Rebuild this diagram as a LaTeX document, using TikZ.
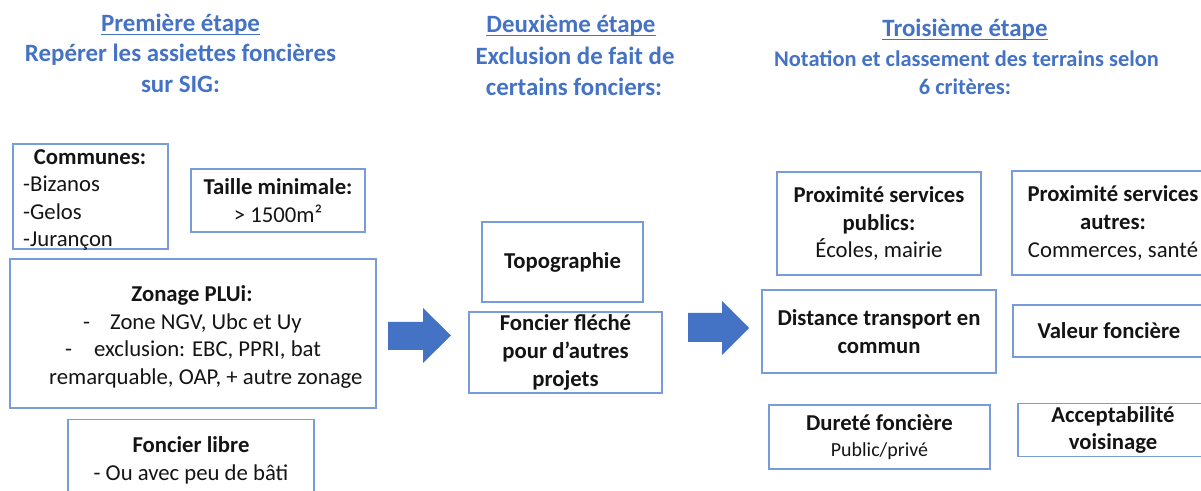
\documentclass[tikz,border=0pt]{standalone}
\usepackage{fontspec}
\setmainfont{Carlito}
\definecolor{headblue}{RGB}{68,114,196}
\definecolor{boxblue}{RGB}{120,155,218}
\definecolor{textdark}{RGB}{20,20,20}
\newcommand{\myBody}{\fontsize{22.8}{28}\selectfont}
\newcommand{\myHead}{\fontsize{25}{30}\selectfont}
\newcommand{\mySmallHead}{\fontsize{22.5}{27.5}\selectfont}
\begin{document}
\begin{tikzpicture}[x=1bp,y=-1bp,
  box/.style={draw=boxblue, line width=1.2bp, rectangle, inner sep=0pt, align=center, text=textdark, font=\myBody},
  headtxt/.style={inner sep=0pt, text=headblue, font=\myHead\bfseries, anchor=base},
  txt/.style={inner sep=0pt, text=textdark, font=\myBody, anchor=base west},
  blockarrow/.style={fill=headblue, draw=none}]
\useasboundingbox (0,0) rectangle (1201,491);

% ---------- headers ----------
\node[headtxt] (h1a) at (180.5,32) {Première étape};
\draw[headblue, line width=1.3bp] ([yshift=-2.5bp]h1a.base west) -- ([yshift=-2.5bp]h1a.base east);
\node[headtxt] (h1b) at (180.5,62) {Repérer les assiettes foncières};
\node[headtxt] (h1c) at (180.5,93) {sur SIG:};

\node[headtxt] (h2a) at (571,33) {Deuxième étape};
\draw[headblue, line width=1.3bp] ([yshift=-2.5bp]h2a.base west) -- ([yshift=-2.5bp]h2a.base east);
\node[headtxt] (h2b) at (575,65) {Exclusion de fait de};
\node[headtxt] (h2c) at (574,96) {certains fonciers:};

\node[headtxt] (h3a) at (965,37) {Troisième étape};
\draw[headblue, line width=1.3bp] ([yshift=-2.5bp]h3a.base west) -- ([yshift=-2.5bp]h3a.base east);
\node[headtxt, font=\mySmallHead\bfseries] (h3b) at (966.5,67) {Notation et classement des terrains selon};
\node[headtxt, font=\mySmallHead\bfseries] (h3c) at (965,95) {6 critères:};

% ---------- first column ----------
\node[box, minimum width=155bp, minimum height=105bp] (communes) at (90.5,196.5) {};
\node[txt, anchor=base, font=\myBody\bfseries] (communesT) at (90,165) {Communes:};
\node[txt] (bizanos) at (23,192) {-Bizanos};
\node[txt] (gelos) at (23,220) {-Gelos};
\node[txt] (jurancon) at (23,247) {-Jurançon};

\node[box, minimum width=174bp, minimum height=63bp] (taille) at (278,200.5)
  {\textbf{Taille minimale:}\\> 1500m²};

\node[box, minimum width=366bp, minimum height=149bp] (zonage) at (193,333.5) {};
\node[txt, anchor=base, font=\myBody\bfseries] (zonageT) at (192,302) {Zonage PLUi:};
\node[txt] (zone1) at (83,330) {\makebox[27bp][l]{-}Zone NGV, Ubc et Uy};
\node[txt] (zone2) at (65,357) {\makebox[29bp][l]{-}exclusion: EBC, PPRI, bat};
\node[txt] (zone3) at (49,385) {remarquable, OAP, + autre zonage};

\node[box, minimum width=246bp, minimum height=81bp] (libre) at (191,460)
  {\textbf{Foncier libre}\\- Ou avec peu de bâti};

% ---------- block arrows ----------
\fill[blockarrow] (388,322) -- (423,322) -- (423,308) -- (451,335.5) -- (423,363) -- (423,350) -- (388,350) -- cycle;
\fill[blockarrow] (688,313) -- (722,313) -- (722,301) -- (749,328) -- (722,355) -- (722,342) -- (688,342) -- cycle;

% ---------- second column ----------
\node[box, minimum width=161bp, minimum height=80bp, font=\myBody\bfseries] (topo) at (562.5,262) {Topographie};
\node[box, minimum width=193bp, minimum height=81bp, font=\myBody\bfseries] (fleche) at (565.5,352.5)
  {Foncier fléché\\pour d’autres\\projets};

% ---------- third column ----------
\node[box, minimum width=204bp, minimum height=103bp] (pub) at (879,223.5)
  {\textbf{Proximité services}\\\textbf{publics:}\\Écoles, mairie};
\node[box, minimum width=202bp, minimum height=104bp] (autres) at (1113,223)
  {\textbf{Proximité services}\\\textbf{autres:}\\Commerces, santé};
\node[box, minimum width=234bp, minimum height=83bp, font=\myBody\bfseries] (dist) at (879,331.5)
  {Distance transport en\\commun};
\node[box, minimum width=192bp, minimum height=52bp, font=\myBody\bfseries] (valeur) at (1109,331)
  {Valeur foncière};
\node[box, minimum width=221bp, minimum height=64bp] (durete) at (879.5,437)
  {\textbf{Dureté foncière}\\[-2bp]{\fontsize{20}{24}\selectfont Public/privé}};
\node[box, minimum width=190bp, minimum height=53bp, font=\myBody\bfseries] (accept) at (1113,430)
  {Acceptabilité\\voisinage};
\end{tikzpicture}
\end{document}
